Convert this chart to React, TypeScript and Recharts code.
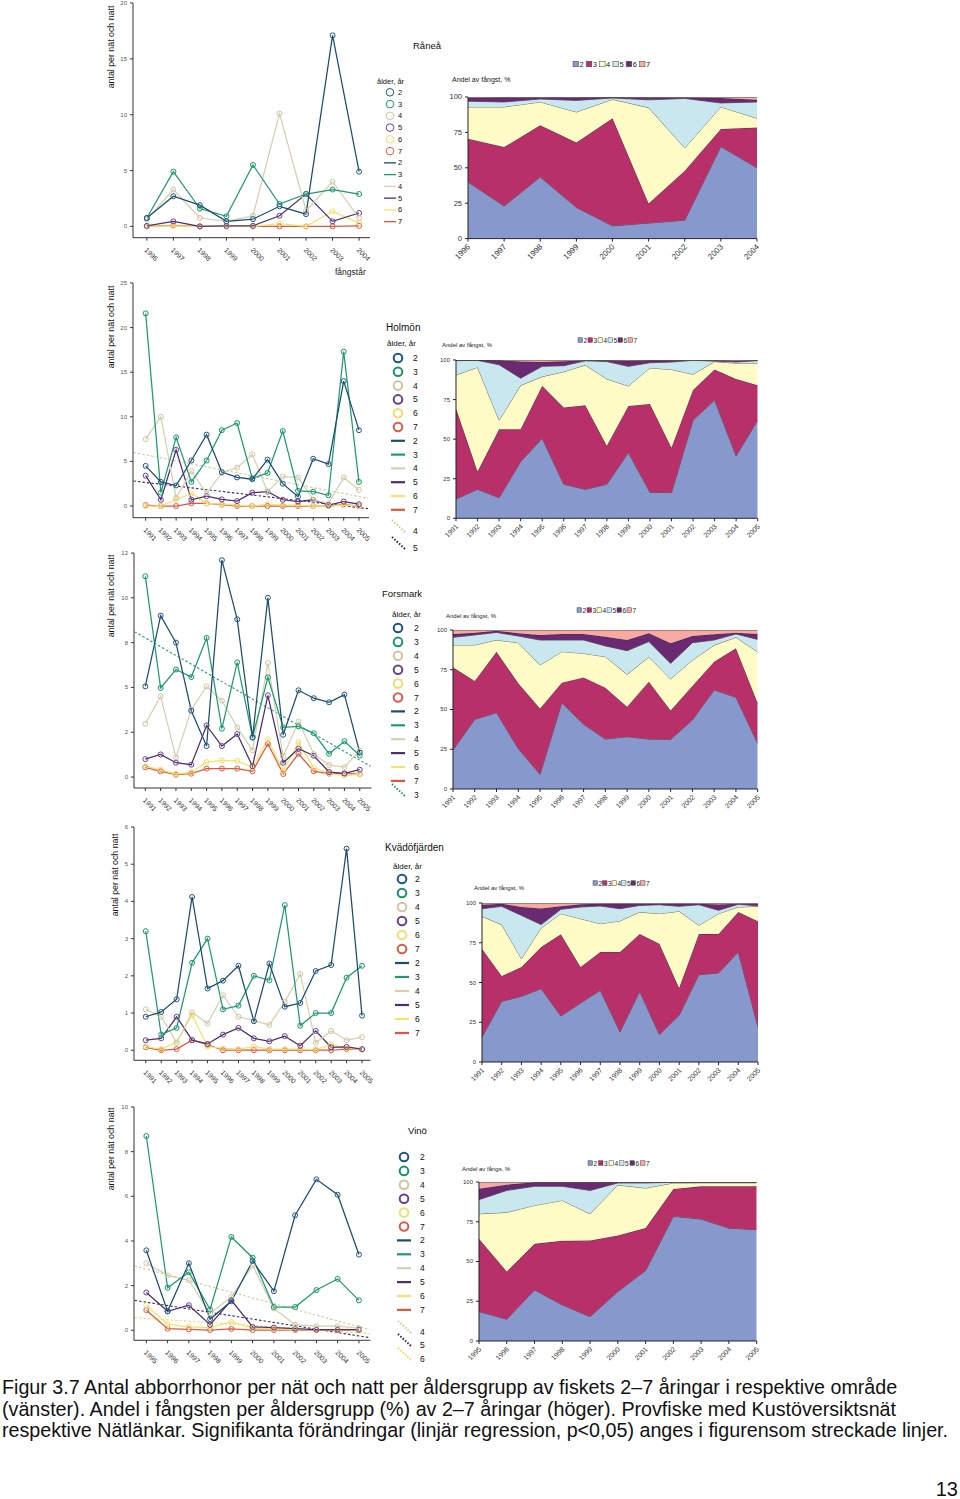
import React from 'react';
import { LineChart, Line, XAxis, YAxis, AreaChart, Area, ReferenceLine } from 'recharts';

const FONT = '"Liberation Sans", Arial, Helvetica, sans-serif';
const AGES = [2, 3, 4, 5, 6, 7];
const LINE_COLORS = ['#1d4c6c', '#1f9a70', '#d6d0b0', '#4c2f6c', '#f2e36c', '#e0583c'];
const DOT_COLORS = ['#1f5585', '#169568', '#cdc5a2', '#66408f', '#f0dd6e', '#dc5a48'];
const AREA_COLORS = ['#8799cc', '#b8306a', '#fffbc6', '#c8e7ee', '#6a2a72', '#f6aaa2'];
const TREND_COLORS: Record<number, string> = { 3: '#2a9a70', 4: '#cfc8a0', 5: '#3a2c5c', 6: '#eedc60' };

// ---------------- Råneå ----------------
const raneaYears = [1996, 1997, 1998, 1999, 2000, 2001, 2002, 2003, 2004];
const raneaAge2 = [0.75, 2.7, 1.9, 0.45, 0.65, 1.8, 1.1, 17.1, 4.9];
const raneaAge3 = [0.75, 4.9, 1.6, 0.9, 5.5, 2.0, 2.9, 3.3, 2.9];
const raneaAge4 = [0.6, 3.3, 0.75, 0.45, 0.95, 10.1, 1.4, 4.0, 0.75];
const raneaAge5 = [0.05, 0.45, 0.0, 0.05, 0.05, 0.95, 2.9, 0.45, 1.2];
const raneaAge6 = [0.0, 0.05, 0.0, 0.0, 0.0, 0.25, 0.0, 1.35, 0.3];
const raneaAge7 = [0.0, 0.1, 0.0, 0.0, 0.0, 0.0, 0.0, 0.0, 0.05];
const raneaYTicks = [0, 5, 10, 15, 20];
const raneaYTickLabels = ['0', '5', '10', '15', '20'];
const raneaShare2 = [40, 23, 43.5, 22, 9, 11, 13, 65, 50];
const raneaShare3 = [30.6, 41.7, 36.5, 45.8, 76, 13.7, 35, 12.4, 28.4];
const raneaShare4 = [22.4, 28.3, 16.5, 21.6, 13.4, 67.8, 16, 15.6, 6.6];
const raneaShare5 = [4, 3.5, 2.1, 8.2, 0.9, 5.5, 35, 2.8, 11.5];
const raneaShare6 = [2.5, 3.1, 1.1, 2, 0.5, 1.7, 0.7, 3.5, 1.5];
const raneaShare7 = [0.5, 0.4, 0.3, 0.4, 0.2, 0.3, 0.3, 0.7, 2];

// ---------------- Holmön ----------------
const holmonYears = [1991, 1992, 1993, 1994, 1995, 1996, 1997, 1998, 1999, 2000, 2001, 2002, 2003, 2004, 2005];
const holmonAge2 = [4.5, 2.7, 2.3, 5.1, 8.0, 3.8, 3.2, 3.0, 5.2, 2.5, 1.05, 5.3, 4.7, 14.0, 8.5];
const holmonAge3 = [21.6, 1.5, 7.7, 2.7, 5.1, 8.5, 9.3, 3.1, 3.7, 8.4, 1.7, 1.6, 1.2, 17.3, 2.7];
const holmonAge4 = [7.5, 10.0, 0.9, 3.9, 1.4, 3.7, 4.3, 5.8, 1.6, 3.3, 3.2, 0.7, 0.3, 3.2, 1.8];
const holmonAge5 = [3.4, 0.7, 6.3, 0.7, 1.1, 0.75, 0.55, 1.5, 1.6, 0.7, 0.5, 0.7, 0.1, 0.5, 0.2];
const holmonAge6 = [0.0, 0.0, 0.7, 1.4, 0.3, 0.2, 0.1, 0.0, 0.2, 0.1, 0.1, 0.0, 0.0, 0.1, 0.0];
const holmonAge7 = [0.1, 0.0, 0.0, 0.3, 0.3, 0.15, 0.0, 0.0, 0.0, 0.0, 0.0, 0.0, 0.0, 0.15, 0.0];
const holmonYTicks = [0, 5, 10, 15, 20, 25];
const holmonYTickLabels = ['0', '5', '10', '15', '20', '25'];
const holmonTrend4 = [[1990.2, 6.0], [2005.6, 0.86]];
const holmonTrend5 = [[1990.2, 2.8], [2005.6, -0.3]];
const holmonShare2 = [12.2, 18.3, 13, 35.8, 50.5, 21.5, 18.3, 21.5, 41.5, 16.4, 16.2, 62, 74.7, 39.4, 62];
const holmonShare3 = [57.3, 11.2, 43.2, 20.4, 33.3, 48.5, 53.1, 24.4, 29.5, 55.8, 28.4, 19, 19.3, 48.6, 22];
const holmonShare4 = [21, 65.9, 5.8, 27.8, 5.7, 22.6, 25.4, 42.1, 12.6, 22.8, 49.4, 10, 5, 10, 14];
const holmonShare5 = [9.1, 4.4, 35, 4.5, 6.5, 3.8, 2.7, 11, 12.4, 3.3, 4.7, 8.8, 0.3, 0.7, 1.6];
const holmonShare6 = [0.3, 0.2, 2.8, 10.5, 2.8, 2.8, 0.4, 0.8, 3.6, 1.5, 1.1, 0.1, 0.5, 0.9, 0.2];
const holmonShare7 = [0.1, 0, 0.2, 1, 1.2, 0.8, 0.1, 0.2, 0.4, 0.2, 0.2, 0.1, 0.2, 0.4, 0.2];

// ---------------- Forsmark ----------------
const forsmarkYears = [1991, 1992, 1993, 1994, 1995, 1996, 1997, 1998, 1999, 2000, 2001, 2002, 2003, 2004, 2005];
const forsmarkAge2 = [5.06, 9.0, 7.5, 3.7, 1.73, 12.1, 8.8, 2.2, 10.0, 2.36, 4.84, 4.4, 4.17, 4.6, 1.36];
const forsmarkAge3 = [11.2, 4.97, 6.0, 5.58, 7.76, 2.7, 6.4, 2.23, 5.56, 2.77, 2.83, 2.44, 1.3, 2.0, 1.2];
const forsmarkAge4 = [2.98, 4.5, 1.1, 3.76, 5.06, 4.26, 2.77, 1.49, 6.36, 1.15, 3.1, 1.28, 0.67, 0.56, 1.47];
const forsmarkAge5 = [1.0, 1.26, 0.8, 0.69, 2.88, 1.73, 2.4, 0.6, 4.56, 0.8, 1.58, 1.19, 0.28, 0.2, 0.41];
const forsmarkAge6 = [0.6, 0.41, 0.17, 0.26, 0.84, 0.93, 0.91, 0.54, 2.1, 0.35, 1.95, 0.5, 0.22, 0.07, 0.17];
const forsmarkAge7 = [0.54, 0.32, 0.13, 0.19, 0.47, 0.47, 0.47, 0.32, 1.86, 0.17, 1.3, 0.32, 0.19, 0.2, 0.17];
const forsmarkYTicks = [0, 2.5, 5, 7.5, 10, 12.5];
const forsmarkYTickLabels = ['0', '2', '5', '8', '10', '12'];
const forsmarkTrend3 = [[1990.3, 8.1], [2005.7, 0.6]];
const forsmarkShare2 = [24.5, 43.8, 48, 25.4, 9.2, 54.3, 40.7, 31.4, 32.9, 31.4, 31.2, 43.4, 62.3, 57.7, 28.7];
const forsmarkShare3 = [52, 24.2, 38.4, 41.1, 41.5, 12.6, 29.5, 32.3, 18.9, 36.1, 18.1, 21.4, 17.7, 30.8, 25.2];
const forsmarkShare4 = [14.1, 22.6, 7.3, 25.5, 27.3, 19.5, 15.1, 19.5, 20.3, 15.5, 19.9, 16.2, 10.5, 6.9, 32.3];
const forsmarkShare5 = [4.8, 6.3, 4.8, 4.2, 15.7, 7.3, 8.4, 6.8, 14.9, 9.7, 9.8, 11, 3.2, 2.1, 7.9];
const forsmarkShare6 = [2.1, 1.4, 1.1, 1.7, 3.2, 3.8, 3.8, 5.8, 6.7, 5.2, 12.6, 4.2, 3.6, 0.8, 3.4];
const forsmarkShare7 = [2.5, 1.7, 0.4, 2.1, 3.1, 2.5, 2.5, 4.2, 6.3, 2.1, 8.4, 3.8, 2.7, 1.7, 2.5];

// ---------------- Kvädöfjärden ----------------
const kvadoYears = [1991, 1992, 1993, 1994, 1995, 1996, 1997, 1998, 1999, 2000, 2001, 2002, 2003, 2004, 2005];
const kvadoAge2 = [0.9, 1.03, 1.37, 4.12, 1.66, 1.87, 2.27, 0.78, 2.33, 1.17, 1.27, 2.13, 2.29, 5.42, 0.93];
const kvadoAge3 = [3.2, 0.42, 0.6, 2.35, 3.0, 1.1, 1.2, 2.0, 1.88, 3.9, 0.66, 1.0, 1.0, 1.95, 2.27];
const kvadoAge4 = [1.1, 0.9, 0.2, 1.02, 0.72, 1.48, 0.9, 0.8, 0.68, 1.3, 2.05, 0.2, 0.52, 0.27, 0.35];
const kvadoAge5 = [0.27, 0.32, 0.9, 0.27, 0.17, 0.42, 0.6, 0.32, 0.24, 0.38, 0.12, 0.52, 0.08, 0.09, 0.03];
const kvadoAge6 = [0.1, 0.03, 0.22, 0.95, 0.1, 0.05, 0.03, 0.1, 0.03, 0.03, 0.03, 0.02, 0.15, 0.05, 0.02];
const kvadoAge7 = [0.08, 0.0, 0.03, 0.27, 0.15, 0.0, 0.0, 0.0, 0.0, 0.0, 0.0, 0.0, 0.0, 0.03, 0.02];
const kvadoYTicks = [0, 1, 2, 3, 4, 5, 6];
const kvadoYTickLabels = ['0', '1', '2', '3', '4', '5', '6'];
const kvadoShare2 = [15.7, 38.2, 41.3, 46.1, 28.9, 37.1, 45.1, 18.9, 44.4, 17.2, 29.4, 54.9, 56, 69.2, 22];
const kvadoShare3 = [55.6, 15.9, 18.4, 26.2, 51.4, 22.6, 24.1, 50.3, 36.1, 57.2, 17.1, 25.6, 24.5, 25.1, 66.5];
const kvadoShare4 = [20.3, 32.3, 5.3, 12, 13, 30.4, 17.8, 19.5, 13.8, 18.9, 48.3, 5.5, 12.8, 3.2, 9.4];
const kvadoShare5 = [4.8, 11.5, 27.2, 2.1, 2.7, 7.4, 11.1, 7.7, 4.2, 5.6, 3.1, 12.9, 2.1, 1.7, 0.3];
const kvadoShare6 = [2.5, 1.7, 5.3, 10.1, 2, 1.7, 1.5, 3.2, 1.1, 0.7, 1.7, 0.7, 3.6, 0.4, 1.4];
const kvadoShare7 = [1.1, 0.4, 2.5, 3.5, 2, 0.8, 0.4, 0.4, 0.4, 0.4, 0.4, 0.4, 1, 0.4, 0.4];

// ---------------- Vinö ----------------
const vinoYears = [1995, 1996, 1997, 1998, 1999, 2000, 2001, 2002, 2003, 2004, 2005];
const vinoAge2 = [3.58, 0.85, 3.0, 0.5, 1.3, 3.1, 1.75, 5.15, 6.76, 6.07, 3.39];
const vinoAge3 = [8.7, 1.9, 2.6, 0.93, 4.18, 3.25, 1.04, 1.04, 1.8, 2.3, 1.34];
const vinoAge4 = [3.0, 2.46, 2.24, 0.75, 1.5, 2.9, 0.97, 0.25, 0.18, 0.18, 0.1];
const vinoAge5 = [1.69, 0.85, 1.12, 0.25, 1.34, 0.15, 0.12, 0.07, 0.03, 0.03, 0.03];
const vinoAge6 = [1.12, 0.27, 0.15, 0.12, 0.37, 0.1, 0.06, 0.03, 0.03, 0.02, 0.02];
const vinoAge7 = [0.9, 0.07, 0.04, 0.01, 0.06, 0.01, 0.01, 0.01, 0.01, 0.01, 0.01];
const vinoYTicks = [0, 2, 4, 6, 8, 10];
const vinoYTickLabels = ['0', '2', '4', '6', '8', '10'];
const vinoTrend4 = [[1994.45, 2.88], [2005.5, 0.03]];
const vinoTrend5 = [[1994.45, 1.34], [2005.5, -0.33]];
const vinoTrend6 = [[1994.45, 0.57], [2005.5, -0.15]];
const vinoShare2 = [18.5, 13.7, 32.1, 22.7, 15.3, 31.1, 44.3, 78.4, 76.7, 71, 70];
const vinoShare3 = [45.8, 30, 29, 40.3, 47.9, 35.3, 26.7, 17.2, 20.6, 26.3, 27.3];
const vinoShare4 = [15.7, 37.2, 24.2, 25.4, 16.8, 31.7, 25.2, 3.8, 2.2, 2.2, 2.2];
const vinoShare5 = [8.9, 13.8, 12, 8.9, 14.7, 1.3, 3.2, 0.4, 0.3, 0.3, 0.3];
const vinoShare6 = [6.9, 3.6, 2.5, 2.5, 5.1, 0.4, 0.4, 0.1, 0.1, 0.1, 0.1];
const vinoShare7 = [4.2, 1.7, 0.2, 0.2, 0.2, 0.2, 0.2, 0.1, 0.1, 0.1, 0.1];

const buildRows = (years: number[], series: number[][]) =>
  years.map((y, i) => {
    const r: any = { year: y };
    series.forEach((s, k) => { r['a' + AGES[k]] = s[i]; });
    return r;
  });

type Rect = { x0: number; y0: number; x1: number; y1: number };
type Trend = { age: number; seg: number[][] };

const lineSites: any[] = [
  { key: 'ranea', years: raneaYears, series: [raneaAge2, raneaAge3, raneaAge4, raneaAge5, raneaAge6, raneaAge7],
    rect: { x0: 133, y0: 3.3, x1: 370, y1: 238 }, xDomain: [1995.48, 2004.41], yDomain: [-1.01, 20],
    yTicks: raneaYTicks, yLabels: raneaYTickLabels, trends: [] },
  { key: 'holmon', years: holmonYears, series: [holmonAge2, holmonAge3, holmonAge4, holmonAge5, holmonAge6, holmonAge7],
    rect: { x0: 133, y0: 283, x1: 369, y1: 517.7 }, xDomain: [1990.17, 2005.66], yDomain: [-1.31, 25],
    yTicks: holmonYTicks, yLabels: holmonYTickLabels, trends: [{ age: 4, seg: holmonTrend4 }, { age: 5, seg: holmonTrend5 }] },
  { key: 'forsmark', years: forsmarkYears, series: [forsmarkAge2, forsmarkAge3, forsmarkAge4, forsmarkAge5, forsmarkAge6, forsmarkAge7],
    rect: { x0: 134.3, y0: 553.3, x1: 371.7, y1: 788.3 }, xDomain: [1990.26, 2005.76], yDomain: [-0.61, 12.5],
    yTicks: forsmarkYTicks, yLabels: forsmarkYTickLabels, trends: [{ age: 3, seg: forsmarkTrend3 }] },
  { key: 'kvado', years: kvadoYears, series: [kvadoAge2, kvadoAge3, kvadoAge4, kvadoAge5, kvadoAge6, kvadoAge7],
    rect: { x0: 134.3, y0: 826.7, x1: 370.7, y1: 1060 }, xDomain: [1990.24, 2005.54], yDomain: [-0.27, 6],
    yTicks: kvadoYTicks, yLabels: kvadoYTickLabels, trends: [] },
  { key: 'vino', years: vinoYears, series: [vinoAge2, vinoAge3, vinoAge4, vinoAge5, vinoAge6, vinoAge7],
    rect: { x0: 134.3, y0: 1106.7, x1: 370.7, y1: 1340 }, xDomain: [1994.42, 2005.54], yDomain: [-0.45, 10],
    yTicks: vinoYTicks, yLabels: vinoYTickLabels,
    trends: [{ age: 4, seg: vinoTrend4 }, { age: 5, seg: vinoTrend5 }, { age: 6, seg: vinoTrend6 }] },
];

const areaSites: any[] = [
  { key: 'ranea', years: raneaYears, series: [raneaShare2, raneaShare3, raneaShare4, raneaShare5, raneaShare6, raneaShare7],
    rect: { x0: 468, y0: 96.7, x1: 757, y1: 238.3 }, xfs: 8, yfs: 7.5 },
  { key: 'holmon', years: holmonYears, series: [holmonShare2, holmonShare3, holmonShare4, holmonShare5, holmonShare6, holmonShare7],
    rect: { x0: 456, y0: 360, x1: 757.7, y1: 518.3 }, xfs: 7, yfs: 6 },
  { key: 'forsmark', years: forsmarkYears, series: [forsmarkShare2, forsmarkShare3, forsmarkShare4, forsmarkShare5, forsmarkShare6, forsmarkShare7],
    rect: { x0: 453, y0: 630, x1: 757.7, y1: 789 }, xfs: 7, yfs: 6 },
  { key: 'kvado', years: kvadoYears, series: [kvadoShare2, kvadoShare3, kvadoShare4, kvadoShare5, kvadoShare6, kvadoShare7],
    rect: { x0: 481.7, y0: 902.7, x1: 757.7, y1: 1061.7 }, xfs: 7, yfs: 6 },
  { key: 'vino', years: vinoYears, series: [vinoShare2, vinoShare3, vinoShare4, vinoShare5, vinoShare6, vinoShare7],
    rect: { x0: 479, y0: 1182, x1: 756.7, y1: 1341 }, xfs: 7, yfs: 6 },
];

const AREA_YTICKS = [0, 25, 50, 75, 100];

const YW = 30, MT = 8, MR = 12, XH = 34;

function LineXTick(props: any) {
  const { x, y, payload } = props;
  const tx = x - 1, ty = y + 6;
  return (
    <text x={tx} y={ty} transform={`rotate(45 ${tx} ${ty})`} fontSize={7} fill="#333"
      textAnchor="start" dominantBaseline="central" fontFamily={FONT}>{payload.value}</text>
  );
}

function LinePanel({ site }: { site: any }) {
  const r: Rect = site.rect;
  const rows = buildRows(site.years, site.series);
  const width = r.x1 - r.x0 + YW + MR;
  const height = r.y1 - r.y0 + MT + XH;
  const labelOf = (v: number) => {
    const i = site.yTicks.indexOf(v);
    return i >= 0 ? site.yLabels[i] : String(v);
  };
  const order = [5, 4, 3, 2, 1, 0];
  return (
    <div style={{ position: 'absolute', left: r.x0 - YW, top: r.y0 - MT }}>
      <LineChart width={width} height={height} data={rows} margin={{ top: MT, right: MR, bottom: 0, left: 0 }}>
        <XAxis type="number" dataKey="year" domain={site.xDomain} ticks={site.years} interval={0}
          allowDataOverflow height={XH} tickSize={3} axisLine={{ stroke: '#333' }} tickLine={{ stroke: '#333' }}
          tick={(p: any) => <LineXTick {...p} />} />
        <YAxis type="number" domain={site.yDomain} ticks={site.yTicks} interval={0} allowDataOverflow
          width={YW} tickSize={3} axisLine={{ stroke: '#333' }} tickLine={{ stroke: '#333' }}
          tick={(p: any) => (
            <text x={p.x - 1} y={p.y} textAnchor="end" dominantBaseline="central" fontSize={6} fill="#555" fontFamily={FONT}>
              {labelOf(p.payload.value)}
            </text>
          )} />
        {site.trends.map((t: Trend) => (
          <ReferenceLine key={'t' + t.age}
            segment={[{ x: t.seg[0][0], y: t.seg[0][1] }, { x: t.seg[1][0], y: t.seg[1][1] }]}
            stroke={TREND_COLORS[t.age]} strokeWidth={1.1} strokeDasharray="2.5 2" ifOverflow="visible" />
        ))}
        {order.map((k) => (
          <Line key={AGES[k]} type="linear" dataKey={'a' + AGES[k]} stroke={LINE_COLORS[k]} strokeWidth={1.25}
            dot={{ r: 2.5, stroke: DOT_COLORS[k], strokeWidth: 1, fill: 'none' }}
            isAnimationActive={false} />
        ))}
      </LineChart>
    </div>
  );
}

function AreaPanel({ site }: { site: any }) {
  const r: Rect = site.rect;
  const rows = buildRows(site.years, site.series);
  const width = r.x1 - r.x0 + YW + MR;
  const height = r.y1 - r.y0 + MT + XH;
  const first = site.years[0];
  const last = site.years[site.years.length - 1];
  return (
    <div style={{ position: 'absolute', left: r.x0 - YW, top: r.y0 - MT }}>
      <AreaChart width={width} height={height} data={rows} margin={{ top: MT, right: MR, bottom: 0, left: 0 }}>
        <XAxis type="number" dataKey="year" domain={[first, last]} ticks={site.years} interval={0}
          allowDataOverflow height={XH} tickSize={3} axisLine={{ stroke: '#222' }} tickLine={{ stroke: '#222' }}
          tick={(p: any) => {
            const tx = p.x + 1, ty = p.y + 2;
            return (
              <text x={tx} y={ty} transform={`rotate(-45 ${tx} ${ty})`} textAnchor="end" dominantBaseline="central"
                fontSize={site.xfs} fill="#333" fontFamily={FONT}>{p.payload.value}</text>
            );
          }} />
        <YAxis type="number" domain={[0, 100]} ticks={AREA_YTICKS} interval={0} allowDataOverflow
          width={YW} tickSize={3} axisLine={{ stroke: '#222' }} tickLine={{ stroke: '#222' }}
          tick={(p: any) => (
            <text x={p.x - 1} y={p.y} textAnchor="end" dominantBaseline="central" fontSize={site.yfs} fill="#333" fontFamily={FONT}>
              {p.payload.value}
            </text>
          )} />
        {AGES.map((a, k) => (
          <Area key={a} type="linear" dataKey={'a' + a} stackId="s" fill={AREA_COLORS[k]} fillOpacity={1}
            stroke="#2a2a2a" strokeWidth={0.7} isAnimationActive={false} />
        ))}
      </AreaChart>
    </div>
  );
}

const legendSpecs = [
  { title: 'Råneå', titleX: 413, titleY: 45, titleFs: 9.5, header: 'ålder, år', headerX: 377, headerY: 81.7, headerFs: 7.5,
    symX: 390, numX: 398, rowY0: 92.3, rowDy: 11.76, r: 3.8, csw: 1, lineHalf: 6, lsw: 1.3, numFs: 7.5, trendRows: [] as any[],
    andel: 'Andel av fångst, %', andelX: 452, andelY: 79, andelFs: 7, topX: 573, topY: 64, topStep: 13.3, sq: 5.5, topFs: 7.5,
    yLabelX: 111, yLabelY: 47 },
  { title: 'Holmön', titleX: 386, titleY: 327, titleFs: 10, header: 'ålder, år', headerX: 387, headerY: 343, headerFs: 8,
    symX: 398, numX: 413, rowY0: 358, rowDy: 13.8, r: 4.3, csw: 2, lineHalf: 7, lsw: 2.2, numFs: 8.5,
    trendRows: [{ age: 4, y: 531 }, { age: 5, y: 548 }],
    andel: 'Andel av fångst, %', andelX: 442, andelY: 345, andelFs: 6, topX: 578, topY: 340, topStep: 10, sq: 4.5, topFs: 6.5,
    yLabelX: 111, yLabelY: 327 },
  { title: 'Forsmark', titleX: 382, titleY: 593, titleFs: 9.5, header: 'ålder, år', headerX: 392, headerY: 614, headerFs: 8,
    symX: 398, numX: 414, rowY0: 628, rowDy: 13.9, r: 4.3, csw: 2, lineHalf: 7, lsw: 2.2, numFs: 8.5,
    trendRows: [{ age: 3, y: 795 }],
    andel: 'Andel av fångst, %', andelX: 446, andelY: 616, andelFs: 6, topX: 577, topY: 610, topStep: 10, sq: 4.5, topFs: 6.5,
    yLabelX: 111, yLabelY: 596 },
  { title: 'Kvädöfjärden', titleX: 385, titleY: 847, titleFs: 10, header: 'ålder, år', headerX: 393, headerY: 866, headerFs: 8,
    symX: 402, numX: 415, rowY0: 879, rowDy: 14.0, r: 4.3, csw: 2, lineHalf: 7, lsw: 2.2, numFs: 8.5, trendRows: [] as any[],
    andel: 'Andel av fångst, %', andelX: 474, andelY: 888, andelFs: 6, topX: 593, topY: 883, topStep: 9.5, sq: 4.5, topFs: 6.5,
    yLabelX: 115, yLabelY: 875 },
  { title: 'Vinö', titleX: 408, titleY: 1130, titleFs: 9.5, header: '', headerX: 0, headerY: 0, headerFs: 8,
    symX: 404, numX: 420, rowY0: 1157, rowDy: 13.9, r: 4.3, csw: 2, lineHalf: 7, lsw: 2.2, numFs: 8.5,
    trendRows: [{ age: 4, y: 1332 }, { age: 5, y: 1345 }, { age: 6, y: 1359 }],
    andel: 'Andel av fångs, %', andelX: 462, andelY: 1169, andelFs: 6, topX: 588, topY: 1163, topStep: 10.5, sq: 4.5, topFs: 6.5,
    yLabelX: 111, yLabelY: 1149 },
];

function Overlay() {
  return (
    <svg width={960} height={1499} style={{ position: 'absolute', left: 0, top: 0, overflow: 'visible', pointerEvents: 'none' }}
      fontFamily={FONT}>
      {legendSpecs.map((s, si) => (
        <g key={si}>
          <text x={s.titleX} y={s.titleY} fontSize={s.titleFs} fill="#111" dominantBaseline="central">{s.title}</text>
          {s.header && (
            <text x={s.headerX} y={s.headerY} fontSize={s.headerFs} fill="#111" dominantBaseline="central">{s.header}</text>
          )}
          {AGES.map((a, k) => {
            const y = s.rowY0 + k * s.rowDy;
            return (
              <g key={'c' + a}>
                <circle cx={s.symX} cy={y} r={s.r} fill="none" stroke={DOT_COLORS[k]} strokeWidth={s.csw} />
                <text x={s.numX} y={y} fontSize={s.numFs} fill="#111" dominantBaseline="central">{a}</text>
              </g>
            );
          })}
          {AGES.map((a, k) => {
            const y = s.rowY0 + (k + 6) * s.rowDy;
            return (
              <g key={'l' + a}>
                <line x1={s.symX - s.lineHalf} x2={s.symX + s.lineHalf} y1={y} y2={y} stroke={LINE_COLORS[k]} strokeWidth={s.lsw} />
                <text x={s.numX} y={y} fontSize={s.numFs} fill="#111" dominantBaseline="central">{a}</text>
              </g>
            );
          })}
          {s.trendRows.map((t: any) => (
            <g key={'t' + t.age}>
              <line x1={s.symX - 6} y1={t.y - 11} x2={s.symX + 7} y2={t.y + 1} stroke={TREND_COLORS[t.age]}
                strokeWidth={2} strokeDasharray="1.6 1.6" />
              <text x={s.numX} y={t.y} fontSize={s.numFs} fill="#111" dominantBaseline="central">{t.age}</text>
            </g>
          ))}
          <text x={s.andelX} y={s.andelY} fontSize={s.andelFs} fill="#222" dominantBaseline="central">{s.andel}</text>
          {AGES.map((a, k) => {
            const x = s.topX + k * s.topStep;
            return (
              <g key={'q' + a}>
                <rect x={x} y={s.topY - s.sq / 2} width={s.sq} height={s.sq} fill={AREA_COLORS[k]} stroke="#444" strokeWidth={0.5} />
                <text x={x + s.sq + 1} y={s.topY} fontSize={s.topFs} fill="#222" dominantBaseline="central">{a}</text>
              </g>
            );
          })}
          <text x={s.yLabelX} y={s.yLabelY} fontSize={8.8} fill="#111" textAnchor="middle" dominantBaseline="central"
            transform={`rotate(-90 ${s.yLabelX} ${s.yLabelY})`}>antal per nät och natt</text>
        </g>
      ))}
      <text x={335} y={272} fontSize={8.5} fill="#222" dominantBaseline="central">fångstår</text>
    </svg>
  );
}

const captionLines = [
  'Figur 3.7 Antal abborrhonor per nät och natt per åldersgrupp av fiskets 2–7 åringar i respektive område',
  '(vänster). Andel i fångsten per åldersgrupp (%) av 2–7 åringar (höger). Provfiske med Kustöversiktsnät',
  'respektive Nätlänkar. Signifikanta förändringar (linjär regression, p<0,05) anges i figurensom streckade linjer.',
];

export default function App() {
  return (
    <div style={{ position: 'absolute', left: 0, top: 0, width: 960, height: 1499, background: '#fff', overflow: 'hidden', fontFamily: FONT }}>
      {lineSites.map((s) => <LinePanel key={'l' + s.key} site={s} />)}
      {areaSites.map((s) => <AreaPanel key={'a' + s.key} site={s} />)}
      <Overlay />
      <div style={{ position: 'absolute', left: 2, top: 1377, fontSize: 19.7, lineHeight: '21.5px', color: '#111', whiteSpace: 'nowrap' }}>
        {captionLines.map((l, i) => <div key={i}>{l}</div>)}
      </div>
      <div style={{ position: 'absolute', right: 2, top: 1477, fontSize: 20, lineHeight: '24px', color: '#111' }}>13</div>
    </div>
  );
}
